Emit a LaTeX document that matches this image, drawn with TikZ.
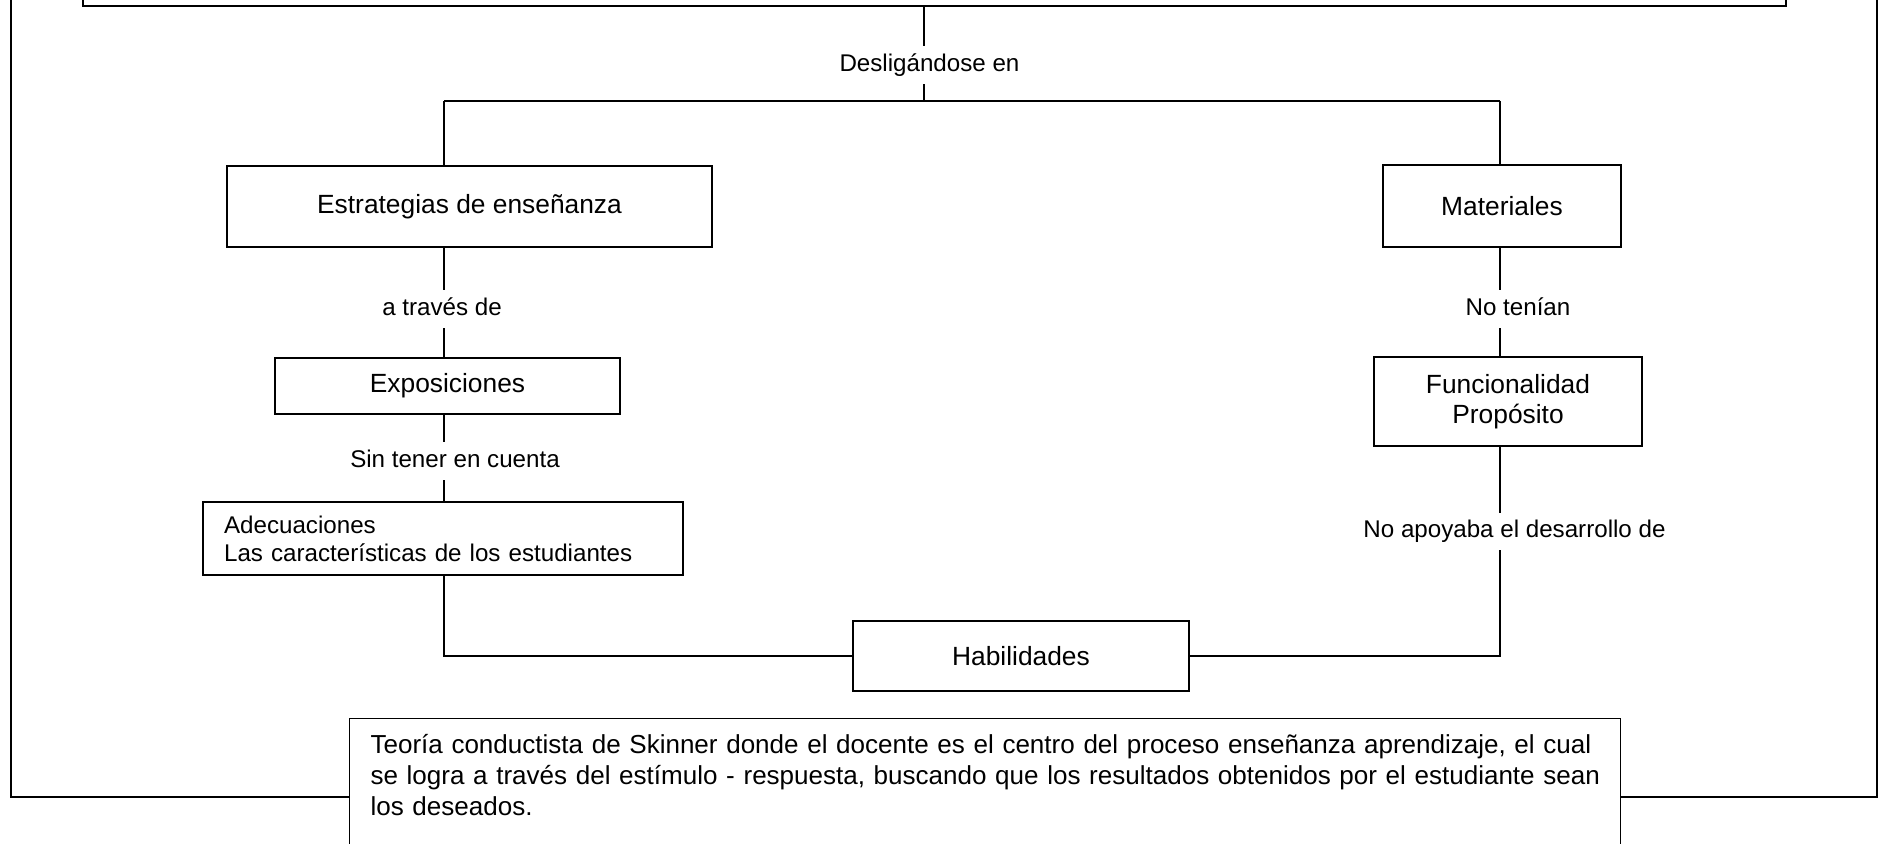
\documentclass[tikz,border=0pt]{standalone}
\usepackage{fontspec}
\setmainfont{Liberation Sans}

\begin{document}
\begin{tikzpicture}[x=0.016cm, y=-0.016cm, line width=0.8pt,
  box/.style={draw, fill=white, line width=1pt, align=center, inner sep=0pt, font=\fontsize{12}{13.8}\selectfont},
  lbl/.style={fill=white, anchor=base, inner xsep=1pt, inner ysep=3pt, text height=8.5pt, text depth=2.5pt, font=\fontsize{11}{12.65}\selectfont},
  frame/.style={line width=1.2pt}]
\useasboundingbox (0,0) rectangle (1879,844);
\clip (0,0) rectangle (1879,844);

% marco exterior y recuadro superior
\draw[frame] (11,-40) rectangle (1877,797);
\node[box, minimum width=27.248cm, minimum height=1.6cm] (mapa) at (934.5,-44) {};

% recuadros
\node[box, minimum width=7.76cm, minimum height=1.296cm] (estr) at (469.5,206.5) {Estrategias de enseñanza};
\node[box, minimum width=5.52cm, minimum height=0.896cm] (expo) at (447.5,386) {Exposiciones};
\node[box, align=left, text width=7.008cm, inner xsep=0.336cm, minimum height=1.168cm, font=\fontsize{11}{12.65}\selectfont] (adec) at (443,538.5) {Adecuaciones\\Las características de los estudiantes};
\node[box, minimum width=3.808cm, minimum height=1.312cm] (mat) at (1502,206) {Materiales};
\node[box, minimum width=4.288cm, minimum height=1.424cm] (func) at (1508,401.5) {Funcionalidad\\Propósito};
\node[box, minimum width=5.376cm, minimum height=1.12cm] (hab) at (1021,656) {Habilidades};
\node[box, line width=0.5pt, anchor=north west, align=left, text width=19.664cm, inner xsep=0.336cm, inner ysep=7pt, text depth=2cm, font=\fontsize{11.85}{14.2}\selectfont] (teoria) at (349,718)
  {\mbox{Teoría conductista de Skinner donde el docente es el centro del proceso enseñanza aprendizaje, el cual}\\
   \mbox{se logra a través del estímulo - respuesta, buscando que los resultados obtenidos por el estudiante sean}\\
   los deseados.};

% conectores
\coordinate (t) at (924,6);
\coordinate (sp) at (924,101);
\coordinate (sl) at (444,101);
\coordinate (sr) at (1500,101);

\draw (t) -- (sp);
\draw (sl) -- (sr);
\draw (sl) -- (sl |- estr.north);
\draw (sl |- estr.south) -- (sl |- expo.north);
\draw (sl |- expo.south) -- (sl |- adec.north);
\draw (sl |- adec.south) |- (hab.west);
\draw (sr) -- (sr |- mat.north);
\draw (sr |- mat.south) -- (sr |- func.north);
\draw (sr |- func.south) |- (hab.east);

% etiquetas
\node[lbl] (l1) at (929.5,71.5) {Desligándose en};
\node[lbl] (l2) at (442,315.5) {a través de};
\node[lbl] (l3) at (455,467.5) {Sin tener en cuenta};
\node[lbl] (l4) at (1518,315.5) {No tenían};
\node[lbl] (l5) at (1514.5,538) {No apoyaba el desarrollo de};

\end{tikzpicture}
\end{document}
